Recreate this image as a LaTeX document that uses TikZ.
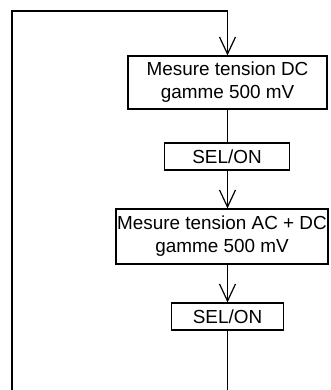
\documentclass[tikz,border=0pt]{standalone}
\usepackage{fontspec}
\setmainfont{Liberation Sans}
\usetikzlibrary{arrows.meta}
\tikzset{
  box/.style={draw, line width=1.2pt, inner sep=0pt, align=center,
    font=\fontsize{18.9}{23}\selectfont},
  conn/.style={line width=1.2pt},
  arr/.style={conn, -{Straight Barb[length=17pt,width=16pt,line width=1.2pt]}}
}
\begin{document}
\begin{tikzpicture}
\useasboundingbox (0,0) rectangle (331pt,-390pt);
\node[box, minimum width=199pt, minimum height=53pt] (b1) at (227.5pt,-82.5pt) {Mesure tension DC\\gamme 500 mV};
\node[box, minimum width=125pt, minimum height=27pt] (s1) at (227pt,-156.5pt) {SEL/ON};
\node[box, minimum width=212pt, minimum height=55pt] (b2) at (222pt,-236.5pt) {Mesure tension AC + DC\\gamme 500 mV};
\node[box, minimum width=112pt, minimum height=27pt] (s2) at (227.5pt,-316.5pt) {SEL/ON};
\coordinate (tl) at (12pt,-11pt);
\coordinate (bl) at (12pt,-390pt);
\coordinate (tc) at (227.5pt,-11pt);
\coordinate (bc) at (227.5pt,-390pt);
\draw[conn] (bl) -- (tl) -- (tc);
\draw[arr] (tc) -- (b1.north);
\draw[conn] (b1.south) -- (s1.north -| b1.south);
\draw[arr] (s1.south -| b1.south) -- (b2.north -| b1.south);
\draw[arr] (b2.south -| b1.south) -- (s2.north);
\draw[conn] (s2.south) -- (bc);
\end{tikzpicture}
\end{document}
